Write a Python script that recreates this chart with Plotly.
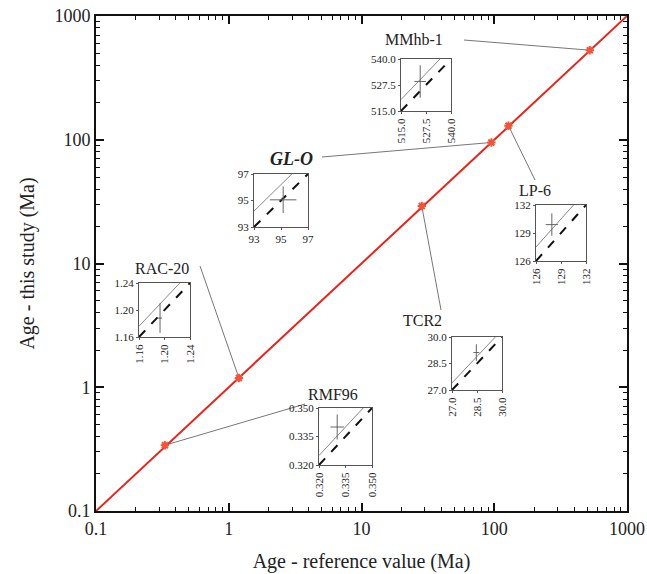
import plotly.graph_objects as go
import numpy as np

# ---- data ----
samples = ["MMhb-1", "GL-O", "LP-6", "RAC-20", "TCR2", "RMF96"]
ref_age = [524.6, 95.16, 127.9, 1.193, 28.46, 0.3303]      # reference value (Ma)
study_age = [529.2, 95.05, 129.9, 1.188, 29.12, 0.340]     # this study (Ma)
ref_err = [2.9, 0.98, 0.74, 0.003, 0.18, 0.0038]
study_err = [7.8, 1.0, 1.2, 0.022, 0.47, 0.0066]
fit_offset = [5.5, 1.2, 1.5, 0.016, 0.4, 0.005]
inset_lo = [515.0, 93, 126, 1.16, 27.0, 0.320]
inset_hi = [540.0, 97, 132, 1.24, 30.0, 0.350]
inset_mid = [527.5, 95, 129, 1.20, 28.5, 0.335]
inset_fmt = [".1f", "d", "d", ".2f", ".1f", ".3f"]
main_ticks = [0.1, 1, 10, 100, 1000]
main_ticktext = ["0.1", "1", "10", "100", "1000"]

# ---- layout constants ----
W, H = 647, 574
L, R, T, B = 96, 20, 16, 63
PW, PH = W - L - R, H - T - B
FONT = "'Liberation Serif', 'Times New Roman', 'DejaVu Serif', serif"

def px(x):
    return (x - L) / PW

def py(y):
    return (H - B - y) / PH

# inset boxes in pixels (x0, x1, y_top, y_bottom)
boxes = [(401, 451, 59, 111), (254, 308, 174, 227), (536, 586, 205, 261),
         (139, 190, 283, 337), (452, 502, 337, 390), (319, 372, 408, 465)]
rotated = [True, False, True, True, True, True]
label_pos = [(414, 40), (291, 159), (535, 191), (162, 268), (422, 320), (333, 394)]
leader_end = [(464, 40), (322, 157), (535, 180), (200, 266), (441, 310), (305, 404)]

fig = go.Figure()

# main 1:1 line
fig.add_trace(go.Scatter(x=[0.1, 1000], y=[0.1, 1000], mode="lines",
                         line=dict(color="#e8231b", width=2), showlegend=False,
                         hoverinfo="skip"))
fig.add_trace(go.Scatter(x=ref_age, y=study_age, mode="markers",
                         marker=dict(symbol="asterisk-open", size=7,
                                     line=dict(color="#c01010", width=2)),
                         showlegend=False))

minor_vals = [m * 10.0 ** e for e in range(-1, 3) for m in range(2, 10)]

axis_common = dict(type="log", range=[-1, 3], showgrid=False, zeroline=False,
                   showline=True, linecolor="#111", linewidth=2, mirror="ticks",
                   ticks="inside", ticklen=8, tickwidth=1.5, tickcolor="#111",
                   tickvals=main_ticks, ticktext=main_ticktext, automargin=False,
                   tickfont=dict(family=FONT, size=18, color="#222"),
                   minor=dict(tickvals=minor_vals, ticks="inside", ticklen=4,
                              tickwidth=1.2, tickcolor="#111", showgrid=False))

layout = dict(
    width=W, height=H, margin=dict(l=L, r=R, t=T, b=B),
    plot_bgcolor="white", paper_bgcolor="white", showlegend=False,
    font=dict(family=FONT),
    xaxis=dict(domain=[0, 1], title=dict(text="Age - reference value (Ma)",
               font=dict(family=FONT, size=20, color="#222"), standoff=16), **axis_common),
    yaxis=dict(domain=[0, 1], title=dict(text="Age - this study (Ma)",
               font=dict(family=FONT, size=20, color="#222"), standoff=14), **axis_common),
)

shapes = []
annotations = []
for i, name in enumerate(samples):
    k = i + 2
    xa, ya = f"x{k}", f"y{k}"
    lo, hi = inset_lo[i], inset_hi[i]
    # fitted line (study = ref + offset)
    fig.add_trace(go.Scatter(x=[lo, hi], y=[lo + fit_offset[i], hi + fit_offset[i]],
                             mode="lines", line=dict(color="#888", width=1),
                             xaxis=xa, yaxis=ya, hoverinfo="skip"))
    # 1:1 dashed line
    fig.add_trace(go.Scatter(x=[lo, hi], y=[lo, hi], mode="lines",
                             line=dict(color="#111", width=2, dash="dash"),
                             xaxis=xa, yaxis=ya, hoverinfo="skip"))
    # data point with errors
    fig.add_trace(go.Scatter(x=[ref_age[i]], y=[study_age[i]], mode="markers",
                             marker=dict(size=1, color="#666"),
                             error_x=dict(type="data", array=[ref_err[i]], width=0,
                                          color="#666", thickness=1),
                             error_y=dict(type="data", array=[study_err[i]], width=0,
                                          color="#666", thickness=1),
                             xaxis=xa, yaxis=ya))
    x0, x1, yt, yb = boxes[i]
    ticks = [lo, inset_mid[i], hi]
    sub = dict(range=[lo, hi], showgrid=False, zeroline=False, showline=True,
               linecolor="#555", linewidth=1, mirror=True, ticks="outside",
               ticklen=2, tickcolor="#555", tickvals=ticks, tickformat=inset_fmt[i],
               automargin=False, tickfont=dict(family=FONT, size=11, color="#222"))
    layout[f"xaxis{k}"] = dict(domain=[px(x0), px(x1)], anchor=ya,
                               tickangle=-90 if rotated[i] else 0, **sub)
    layout[f"yaxis{k}"] = dict(domain=[py(yb), py(yt)], anchor=xa, **sub)

    # leader line: from point (paper coords from log mapping) to label end
    lx = (np.log10(ref_age[i]) + 1) / 4
    ly = (np.log10(study_age[i]) + 1) / 4
    ex, ey = leader_end[i]
    shapes.append(dict(type="line", xref="paper", yref="paper", x0=lx, y0=ly,
                       x1=px(ex), y1=py(ey), line=dict(color="#777", width=1),
                       layer="below"))
    tx, ty = label_pos[i]
    txt = f"<b><i>{name}</i></b>" if name == "GL-O" else name
    annotations.append(dict(text=txt, x=px(tx), y=py(ty), xref="paper", yref="paper",
                            showarrow=False, xanchor="center", yanchor="middle",
                            font=dict(family=FONT, size=18 if name == "GL-O" else 16,
                                      color="#222")))

layout["shapes"] = shapes
layout["annotations"] = annotations
fig.update_layout(**layout)
fig.write_html("out.html")
